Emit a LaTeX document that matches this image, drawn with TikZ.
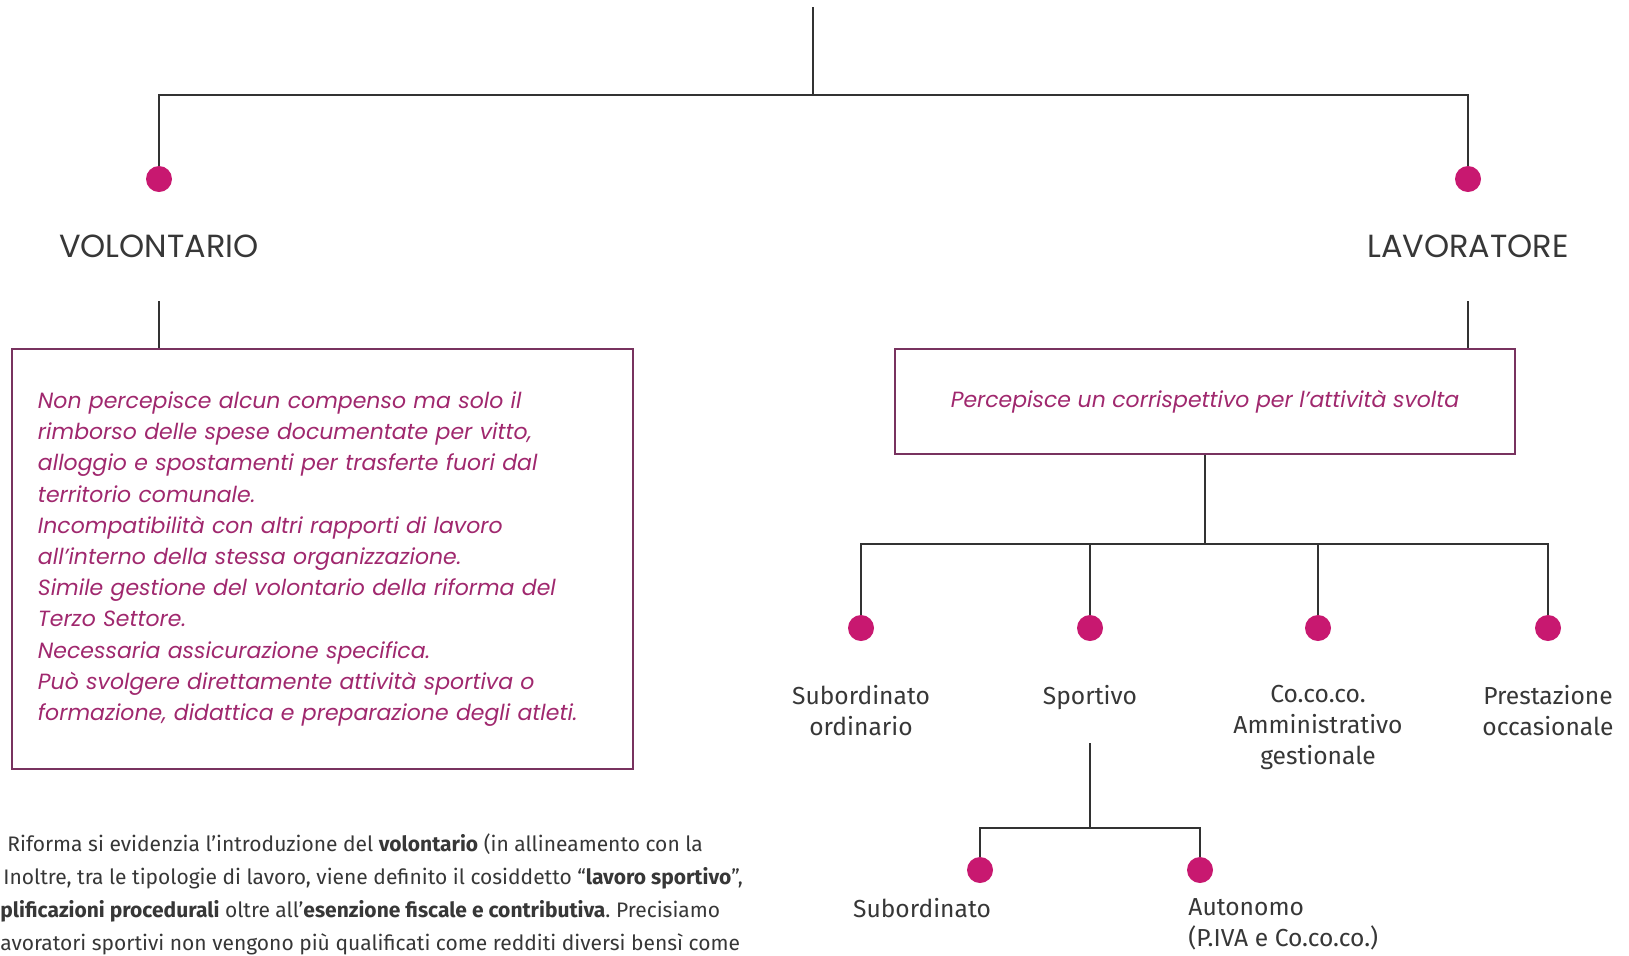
\documentclass[tikz,border=0pt]{standalone}
\usepackage{fontspec}
\setmainfont{Fira Sans}
\newfontfamily\boxfont{Poppins}
\definecolor{dotc}{RGB}{200,24,112}
\definecolor{boxline}{RGB}{120,50,95}
\definecolor{boxtext}{RGB}{160,40,110}
\definecolor{txt}{RGB}{55,55,55}
\definecolor{linec}{RGB}{50,50,50}
\pgfdeclarelayer{back}
\pgfdeclarelayer{bg}
\pgfsetlayers{back,bg,main}
\frenchspacing
\begin{document}
\begin{tikzpicture}[x=0.5pt,y=-0.5pt,
  conn/.style={draw=linec, line width=1pt},
  dotn/.style={circle, fill=dotc, minimum size=13pt, inner sep=0pt},
  title/.style={font=\boxfont\fontsize{16}{19}\selectfont, text=txt, inner sep=0pt},
  lab/.style={font=\fontsize{12.3}{15.5}\selectfont, text=txt, align=center, inner sep=0pt, anchor=north},
  infobox/.style={draw=boxline, line width=1pt, font=\boxfont\itshape\fontsize{11}{15.6}\selectfont, text=boxtext},
  para/.style={font=\fontsize{10.5}{16.5}\selectfont, text=txt, align=left, inner sep=0pt, anchor=north west}]
\useasboundingbox (0,0) rectangle (1629,955);
\begin{pgfonlayer}{back}
\fill[white] (0,0) rectangle (1629,955);
\end{pgfonlayer}

% top level
\coordinate (top) at (813,7);
\coordinate (j1) at (813,95);
\node[dotn] (dV) at (159,179) {};
\node[dotn] (dL) at (1468,179) {};
\node[title] (tV) at (159,246) {VOLONTARIO};
\node[title] (tL) at (1468,246) {LAVORATORE};
\coordinate (vV) at (159,301);
\coordinate (vL) at (1468,301);

\node[infobox, minimum width=310.5pt, minimum height=210pt, text width=284.5pt, align=left, inner sep=13pt] (bV) at (322.5,559) {Non percepisce alcun compenso ma solo il\\
rimborso delle spese documentate per vitto,\\
alloggio e spostamenti per trasferte fuori dal\\
territorio comunale.\\
Incompatibilità con altri rapporti di lavoro\\
all’interno della stessa organizzazione.\\
Simile gestione del volontario della riforma del\\
Terzo Settore.\\
Necessaria assicurazione specifica.\\
Può svolgere direttamente attività sportiva o\\
formazione, didattica e preparazione degli atleti.};

\node[infobox, minimum width=310pt, minimum height=52.5pt] (bL) at (1205,401.5) {Percepisce un corrispettivo per l’attività svolta};

% second level
\coordinate (j2) at (1205,544);
\node[dotn] (d1) at (861,628) {};
\node[dotn] (d2) at (1090,628) {};
\node[dotn] (d3) at (1318,628) {};
\node[dotn] (d4) at (1548,628) {};
\node[lab] (l1) at (861,685) {Subordinato\\ordinario};
\node[lab] (l2) at (1090,685) {Sportivo};
\node[lab] (l3) at (1318,685) {Co.co.co.\\Amministrativo\\gestionale};
\node[lab] (l4) at (1548,685) {Prestazione\\occasionale};

% third level
\coordinate (s1) at (1090,743);
\coordinate (j3) at (1090,828);
\node[dotn] (e1) at (980,870) {};
\node[dotn] (e2) at (1200,870) {};
\node[lab] (m1) at (922,898) {Subordinato};
\node[lab, anchor=north west, align=left] (m2) at (1188,898) {Autonomo\\(P.IVA e Co.co.co.)};

% paragraph
\node[para] (p) at (0,833) {\hspace*{3.5pt}Riforma si evidenzia l’introduzione del \textbf{volontario} (in allineamento con la\\
\hspace*{1.5pt}Inoltre, tra le tipologie di lavoro, viene definito il cosiddetto “\textbf{lavoro sportivo}”,\\
\textbf{plificazioni procedurali} oltre all’\textbf{esenzione fiscale e contributiva}. Precisiamo\\
avoratori sportivi non vengono più qualificati come redditi diversi bensì come};

\begin{pgfonlayer}{bg}
\draw[conn] (top) -- (j1);
\draw[conn] (dV.center) |- (j1) -| (dL.center);
\draw[conn] (vV) -- (vV |- bV.north);
\draw[conn] (vL) -- (vL |- bL.north);
\draw[conn] (bL.south) -- (j2);
\draw[conn] (d1.center) |- (j2) -| (d4.center);
\draw[conn] (d2.center) -- (d2.center |- j2);
\draw[conn] (d3.center) -- (d3.center |- j2);
\draw[conn] (s1) -- (j3);
\draw[conn] (e1.center) |- (j3) -| (e2.center);
\end{pgfonlayer}
\end{tikzpicture}
\end{document}
